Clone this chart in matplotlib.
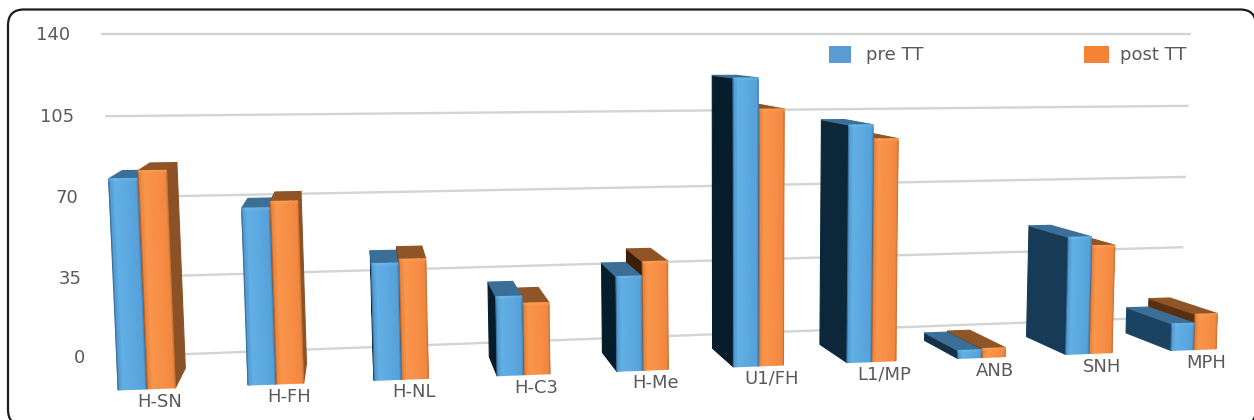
import numpy as np
import matplotlib
matplotlib.use("Agg")
import matplotlib.pyplot as plt
from matplotlib.colors import LinearSegmentedColormap, to_rgb
from matplotlib.patches import FancyBboxPatch, Polygon, Rectangle

# Cephalometric measurements before and after treatment
categories = ["H-SN", "H-FH", "H-NL", "H-C3", "H-Me", "U1/FH", "L1/MP", "ANB", "SNH", "MPH"]
pre_tt = [84, 71.5, 48, 33, 40, 122, 102, 3.5, 52, 12]
post_tt = [87, 74, 49.5, 30, 46, 109, 96, 4, 48, 16]
value_ticks = [0, 35, 70, 105, 140]
series_names = ["pre TT", "post TT"]

# Camera set-up for the tilted 3-D column look
VANISH = np.array([355.0, 30.0])
FRONT_CORNERS = {
    (-0.5, 0): (81, 391.4),
    (9.5, 0): (1245, 347.7),
    (-0.5, 140): (64, 34.4),
    (9.5, 140): (1256, 34.4),
}
DEPTH_BAR_BACK = 0.945
DEPTH_WALL = 0.905
BAR_W = 0.215
BAR_GAP = 0.008
GRID_U = (-0.42, 9.72)


def fit_homography(corners):
    rows, rhs = [], []
    for (u, v), (x, y) in corners.items():
        rows.append([u, v, 1, 0, 0, 0, -u * x, -v * x])
        rows.append([0, 0, 0, u, v, 1, -u * y, -v * y])
        rhs += [x, y]
    h = np.linalg.solve(np.array(rows, float), np.array(rhs, float))
    return np.append(h, 1).reshape(3, 3)


H = fit_homography(FRONT_CORNERS)


def project(u, v, s=1.0):
    u, v = np.asarray(u, float), np.asarray(v, float)
    w = H[2, 0] * u + H[2, 1] * v + H[2, 2]
    x = (H[0, 0] * u + H[0, 1] * v + H[0, 2]) / w
    y = (H[1, 0] * u + H[1, 1] * v + H[1, 2]) / w
    return VANISH[0] + s * (x - VANISH[0]), VANISH[1] + s * (y - VANISH[1])


def mix(a, b, t):
    t = float(np.clip(t, 0, 1))
    return tuple((1 - t) * np.array(to_rgb(a)) + t * np.array(to_rgb(b)))


STYLES = {
    "pre": dict(
        cmap=LinearSegmentedColormap.from_list(
            "pre", ["#173f60", "#5aa5de", "#6fc2f2"]),
        top="#3b6f98", side_near="#061c2a", side_far="#1c4262", right="#2c5f88"),
    "post": dict(
        cmap=LinearSegmentedColormap.from_list(
            "post", ["#6a3a14", "#f68c43", "#ffa85c"]),
        top="#8f5527", side_near="#3a1e08", side_far="#5a2f10", right="#8a5226"),
}

fig = plt.figure(figsize=(12.54, 4.2), dpi=100)
ax = fig.add_axes([0, 0, 1, 1])
ax.set_xlim(0, 1254)
ax.set_ylim(420, 0)
ax.axis("off")

plt.rcParams["font.family"] = ["DejaVu Sans"]
TEXT = "#595959"

ax.add_patch(FancyBboxPatch((8, 9.5), 1248, 416, boxstyle="round,pad=0,rounding_size=16",
                            lw=1.6, ec="#1c1c1c", fc="white", zorder=0))

# Value gridlines sit on the back wall
for val in value_ticks:
    xs, ys = project(GRID_U, [val, val], DEPTH_WALL)
    ax.plot(xs, ys, color="#d2d4d5", lw=1.7, solid_capstyle="butt", zorder=1)
    ax.text(xs[0] - 31, ys[0] + 1, str(val), ha="right", va="center",
            fontsize=13, color=TEXT, zorder=5)


def face(points, colour, z):
    # A thin stroke in the fill colour softens the corners of each facet
    ax.add_patch(Polygon(points, closed=True, lw=0.8, fc=colour, ec=colour,
                         joinstyle="round", zorder=z))


def draw_column(u0, u1, val, key, z):
    st = STYLES[key]
    fx, fy = project([u0, u1, u1, u0], [0, 0, val, val], 1.0)
    bx, by = project([u0, u1, u1, u0], [0, 0, val, val], DEPTH_BAR_BACK)
    t = (fx[0] - 720) / 440

    if fx[0] > VANISH[0]:
        face([(fx[0], fy[0]), (bx[0], by[0]), (bx[3], by[3]), (fx[3], fy[3])],
             mix(st["side_near"], st["side_far"], t), z)
    if fx[1] < VANISH[0]:
        face([(fx[1], fy[1]), (bx[1], by[1]), (bx[2], by[2]), (fx[2], fy[2])],
             st["right"], z)
    face([(fx[3], fy[3]), (fx[2], fy[2]), (bx[2], by[2]), (bx[3], by[3])], st["top"], z)

    # Front face: bevelled edges and a bright lip along the top
    band = min(1.2, 0.3 * val)
    fu = np.array([0, 0.05, 0.2, 0.75, 0.95, 1.0])
    shade_u = np.array([0.22, 0.45, 0.68, 0.5, 0.48, 0.32])
    vs = np.array([0, val - band, val])
    U, V = np.meshgrid(u0 + fu * (u1 - u0), vs)
    X, Y = project(U, V, 1.0)
    C = np.tile(shade_u, (3, 1))
    C[-1] = np.clip(shade_u + 0.22, 0, 1)
    ax.pcolormesh(X, Y, C, shading="gouraud", cmap=st["cmap"], vmin=0, vmax=1,
                  zorder=z, rasterized=True)


# Columns nearest the vanishing point go on last so they overlap correctly
columns = []
for i in range(len(categories)):
    columns.append((i - BAR_W - BAR_GAP / 2, i - BAR_GAP / 2, pre_tt[i], "pre"))
    columns.append((i + BAR_GAP / 2, i + BAR_W + BAR_GAP / 2, post_tt[i], "post"))
columns.sort(key=lambda c: -abs(project((c[0] + c[1]) / 2, 0)[0] - VANISH[0]))
for n, (u0, u1, val, key) in enumerate(columns):
    draw_column(u0, u1, val, key, 2 + n * 0.01)

# Category labels follow the slanted floor
for i, name in enumerate(categories):
    x, y = project(i, 0)
    ax.text(x + 13, y + 13, name, ha="center", va="center", fontsize=13,
            color=TEXT, zorder=5)

# Legend
ax.add_patch(Rectangle((829, 46), 22, 17, fc="#5b9bd5", ec="none", zorder=5))
ax.add_patch(Rectangle((1084, 46), 25, 17, fc="#f58235", ec="none", zorder=5))
ax.text(866, 54.5, series_names[0], ha="left", va="center", fontsize=13, color=TEXT, zorder=5)
ax.text(1120, 54.5, series_names[1], ha="left", va="center", fontsize=13, color=TEXT, zorder=5)

fig.savefig("out.png", dpi=100)
